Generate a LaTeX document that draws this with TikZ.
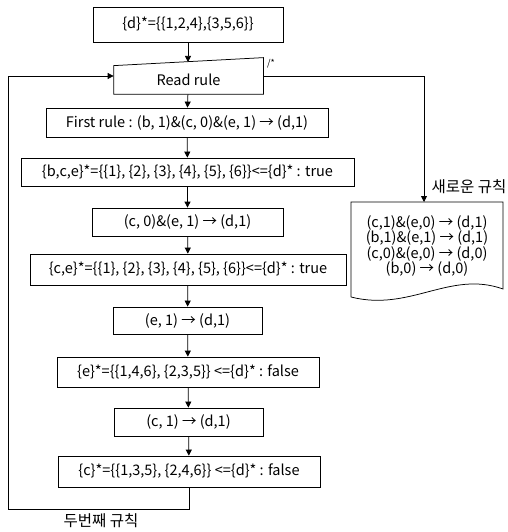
\documentclass[tikz,border=0pt]{standalone}
\usepackage{fontspec}
\setmainfont{Noto Sans CJK KR}
\usetikzlibrary{arrows.meta}
\begin{document}
\begin{tikzpicture}[
            x = 1pt, y = -1pt, line width = 0.75pt,
            box/.style = {draw, inner sep = 0mm, font = \fontsize{14.5}{15.5}\selectfont},
            lbl/.style = {inner sep = 0mm, font = \fontsize{14.5}{15.5}\selectfont},
            kor/.style = {inner sep = 0mm, font = \fontsize{15.5}{17}\selectfont},
            arr/.style = {draw, -{Triangle[length=6pt, width=6pt]}},
        ]
        \useasboundingbox (0,0) rectangle (507,532);

        \node (d) [box, minimum width=190pt, minimum height=35pt] at (188,24.5){\{d\}*=\{\{1,2,4\},\{3,5,6\}\}};
        \node (rr) [lbl, minimum width=149pt, minimum height=36pt] at (188.5,76){};
        \node (rrt) [lbl] at (188.5,80){Read rule};
        \node (f) [box, minimum width=282pt, minimum height=29pt] at (187,122.5){First rule : (b, 1)\&(c, 0)\&(e, 1) → (d,1)};
        \node (bce) [box, minimum width=333pt, minimum height=28pt] at (187.5,172){\{b,c,e\}*=\{\{1\}, \{2\}, \{3\}, \{4\}, \{5\}, \{6\}\}<=\{d\}* : true};
        \node (ce) [box, minimum width=191pt, minimum height=28pt] at (187.5,222){(c, 0)\&(e, 1) → (d,1)};
        \node (ces) [box, minimum width=316pt, minimum height=31pt] at (188,269.5){\{c,e\}*=\{\{1\}, \{2\}, \{3\}, \{4\}, \{5\}, \{6\}\}<=\{d\}* : true};
        \node (e) [box, minimum width=149pt, minimum height=27pt] at (187.5,320.5){(e, 1) → (d,1)};
        \node (es) [box, minimum width=262pt, minimum height=30pt] at (188,372){\{e\}*=\{\{1,4,6\}, \{2,3,5\}\} <=\{d\}* : false};
        \node (c) [box, minimum width=149pt, minimum height=28pt] at (188.5,422){(c, 1) → (d,1)};
        \node (cs) [box, minimum width=262pt, minimum height=31pt] at (189,471.5){\{c\}*=\{\{1,3,5\}, \{2,4,6\}\} <=\{d\}* : false};

        % new rules document
        \node (nr) [lbl, align=center] at (427,246){(c,1)\&(e,0) → (d,1)\\(b,1)\&(e,1) → (d,1)\\(c,0)\&(e,0) → (d,0)\\(b,0) → (d,0)};
        \draw (351,297) -- (351,202) -- (503,202) -- (503,289)
            .. controls (450,270) and (410,312) .. (351,297);
        \draw (rr.south west) -- (rr.south east) -- (rr.north east) -- ([yshift=-8pt]rr.north west) -- cycle;

        \node (star) [lbl, font=\small] at (271,64){/*};
        \node (nrl) [kor] at (469,187){새로운 규칙};
        \node (sr) [kor] at (101,521){두번째 규칙};

        \coordinate (rrin) at (188,62);
        \coordinate (nrin) at (424,202);
        \coordinate (lp) at (8,509);

        \path[arr] (d) -- (rrin);
        \path[arr] (rr) -- (f);
        \path[arr] (f) -- (bce);
        \path[arr] (bce) -- (ce);
        \path[arr] (ce) -- (ces);
        \path[arr] (ces) -- (e);
        \path[arr] (e) -- (es);
        \path[arr] (es) -- (c);
        \path[arr] (c) -- (cs);
        \path[arr] (cs.south) |- (lp) |- (rr.west);
        \path[arr] (rr.east) -| (nrin);
    \end{tikzpicture}
\end{document}
